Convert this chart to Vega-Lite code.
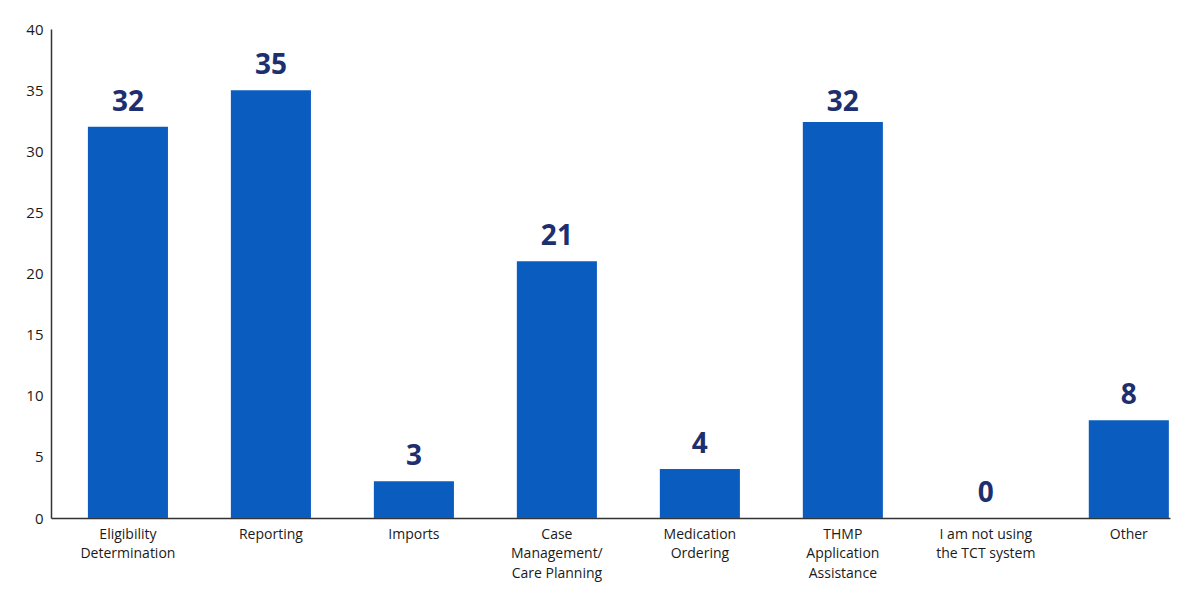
{
  "$schema": "https://vega.github.io/schema/vega-lite/v6.json",
  "width": 1119,
  "height": 489,
  "autosize": "none",
  "padding": {"left": 51, "top": 29, "right": 9, "bottom": 71},
  "background": "white",
  "data": {
    "values": [
      {"category": "Eligibility|Determination", "count": 32, "label": 32},
      {"category": "Reporting", "count": 35, "label": 35},
      {"category": "Imports", "count": 3, "label": 3},
      {"category": "Case|Management/|Care Planning", "count": 21, "label": 21},
      {"category": "Medication|Ordering", "count": 4, "label": 4},
      {"category": "THMP|Application|Assistance", "count": 32.4, "label": 32},
      {"category": "I am not using|the TCT system", "count": 0, "label": 0},
      {"category": "Other", "count": 8, "label": 8}
    ]
  },
  "config": {
    "view": {"stroke": null},
    "font": "Open Sans"
  },
  "encoding": {
    "x": {
      "field": "category",
      "type": "nominal",
      "sort": null,
      "title": null,
      "scale": {"paddingInner": 0.44, "paddingOuter": 0.133, "align": 0.97},
      "axis": {
        "labelAngle": 0,
        "ticks": false,
        "domainColor": "#333333",
        "domainWidth": 1.5,
        "labelFont": "Open Sans",
        "labelFontSize": 14,
        "labelColor": "#1a1a1a",
        "labelPadding": 9,
        "labelBaseline": "top",
        "labelLineHeight": 19.5,
        "labelExpr": "split(datum.label, '|')"
      }
    }
  },
  "layer": [
    {
      "mark": {"type": "bar", "color": "#0b5cbf"},
      "encoding": {
        "y": {
          "field": "count",
          "type": "quantitative",
          "title": null,
          "scale": {"domain": [0, 40], "nice": false},
          "axis": {
            "values": [0, 5, 10, 15, 20, 25, 30, 35, 40],
            "grid": false,
            "ticks": false,
            "domainColor": "#333333",
            "domainWidth": 1.5,
            "labelFont": "Open Sans",
            "labelFontSize": 15,
            "labelColor": "#1a1a1a",
            "labelPadding": 8
          }
        }
      }
    },
    {
      "mark": {
        "type": "text",
        "font": "Open Sans",
        "fontSize": 28,
        "fontWeight": "bold",
        "color": "#1d2f6f",
        "baseline": "alphabetic",
        "dy": -16
      },
      "encoding": {
        "y": {"field": "label", "type": "quantitative"},
        "text": {"field": "label", "type": "quantitative"}
      }
    }
  ]
}
